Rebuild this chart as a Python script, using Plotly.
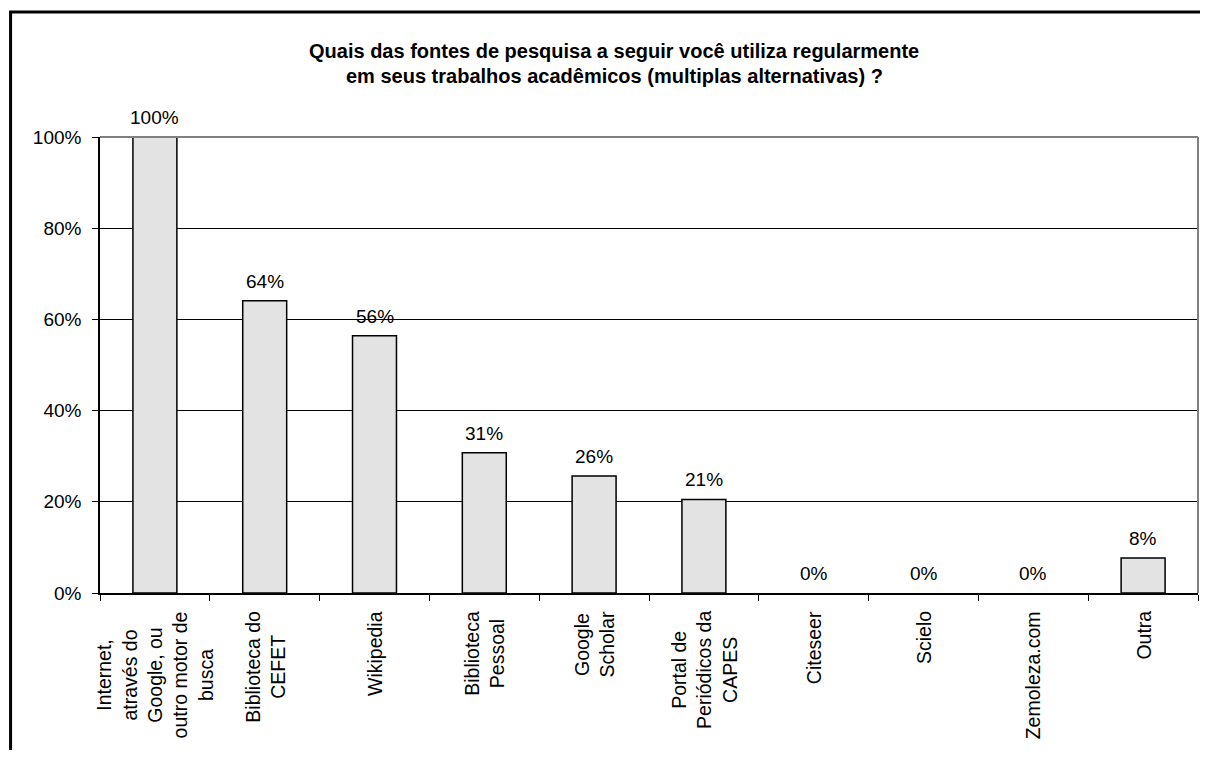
import plotly.graph_objects as go

categories = [
    "Internet,<br>através do<br>Google, ou<br>outro motor de<br>busca",
    "Biblioteca do<br>CEFET",
    "Wikipedia",
    "Biblioteca<br>Pessoal",
    "Google<br>Scholar",
    "Portal de<br>Periódicos da<br>CAPES",
    "Citeseer",
    "Scielo",
    "Zemoleza.com",
    "Outra",
]
values = [100.0, 64.10, 56.41, 30.77, 25.64, 20.51, 0.0, 0.0, 0.0, 7.69]
y_ticks = [0, 20, 40, 60, 80, 100]
title_lines = [
    "Quais das fontes de pesquisa a seguir você utiliza regularmente",
    "em seus trabalhos acadêmicos (multiplas alternativas) ?",
]

FONT = "Liberation Sans, Arial, sans-serif"
# page body has an 8px margin, so the figure is shifted by 8px
OFF = 8
W, H = 1208 - 2 * OFF, 758 - 2 * OFF
PX0, PX1, PY0, PY1 = 99.5, 1198.5, 137, 593  # plot area in reference pixels
L, T = PX0 - OFF, PY0 - OFF
R, B = W - (PX1 - OFF), H - (PY1 - OFF)
pw, ph = PX1 - PX0, PY1 - PY0


def px_x(px):
    return (px - PX0) / pw


def px_y(py):
    return (PY1 - py) / ph


fig = go.Figure()
fig.add_trace(go.Bar(
    x=list(range(len(categories))),
    y=values,
    cliponaxis=False,
    marker=dict(
        color="white",
        line=dict(color="black", width=[1.5 if v > 0 else 0 for v in values]),
        pattern=dict(shape=".", fgcolor="#7f7f7f", bgcolor="white", size=2, solidity=0.5),
    ),
    width=44 / (pw / 10),
    hoverinfo="skip",
))

annotations = []
for i, v in enumerate(values):
    annotations.append(dict(
        x=i, y=v, xref="x", yref="y", text=f"{v:.0f}%", showarrow=False,
        xanchor="center", yanchor="bottom", yshift=7,
        font=dict(family=FONT, size=19, color="black"),
    ))
for i, c in enumerate(categories):
    annotations.append(dict(
        x=i, y=px_y(609), xref="x", yref="paper",
        text=c, showarrow=False, textangle=-90,
        xanchor="center", yanchor="top", align="center",
        font=dict(family=FONT, size=19.5, color="black"),
    ))
for line, py in zip(title_lines, [51, 76]):
    annotations.append(dict(
        x=px_x(614), y=px_y(py), xref="paper", yref="paper",
        text="<b>" + line + "</b>", showarrow=False,
        xanchor="center", yanchor="middle",
        font=dict(family=FONT, size=20, color="black"),
    ))

shapes = [
    # outer chart border
    dict(type="rect", xref="paper", yref="paper",
         x0=px_x(10), x1=px_x(1260), y0=px_y(800), y1=px_y(12),
         line=dict(color="black", width=3), layer="above"),
    # plot area top and right border (grey)
    dict(type="line", xref="paper", yref="paper", x0=0, x1=1, y0=1, y1=1,
         line=dict(color="#808080", width=2), layer="above"),
    dict(type="line", xref="paper", yref="paper", x0=1, x1=1, y0=0, y1=1,
         line=dict(color="#808080", width=2), layer="above"),
]

fig.update_layout(
    width=W, height=H,
    margin=dict(l=L, r=R, t=T, b=B, autoexpand=False),
    paper_bgcolor="white", plot_bgcolor="white",
    showlegend=False,
    annotations=annotations,
    shapes=shapes,
    font=dict(family=FONT, size=19, color="black"),
)
fig.update_xaxes(
    type="linear", range=[-0.5, len(categories) - 0.5],
    tickmode="array", tickvals=[i - 0.5 for i in range(len(categories) + 1)],
    showticklabels=False, ticks="outside", ticklen=6, tickcolor="black", tickwidth=1,
    showline=True, linecolor="black", linewidth=1.5, showgrid=False, zeroline=False,
)
fig.update_yaxes(
    range=[0, 100], tickmode="array", tickvals=y_ticks,
    ticktext=[f"{t}%" for t in y_ticks],
    ticks="outside", ticklen=6, tickcolor="black", tickwidth=1,
    ticklabelstandoff=7,
    showline=True, linecolor="black", linewidth=1.5,
    showgrid=True, gridcolor="black", gridwidth=1, zeroline=False,
    tickfont=dict(family=FONT, size=19, color="black"),
)

fig.write_html("out.html")
